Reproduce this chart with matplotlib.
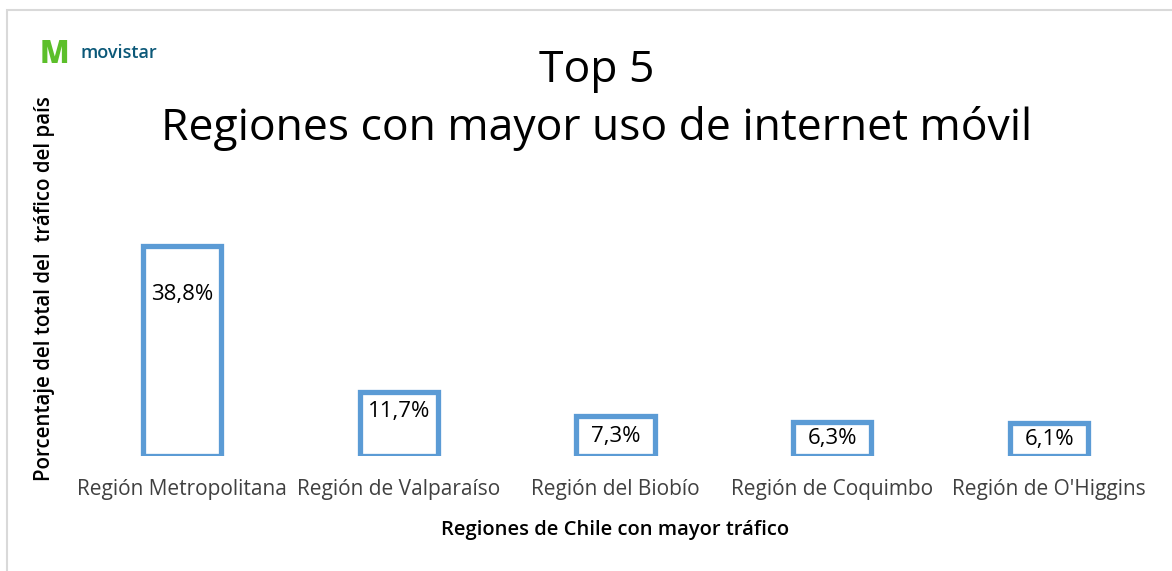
import matplotlib
matplotlib.use("Agg")
import matplotlib.pyplot as plt
from matplotlib.patches import Rectangle

categories = ["Región Metropolitana", "Región de Valparaíso", "Región del Biobío",
              "Región de Coquimbo", "Región de O'Higgins"]
values = [38.8, 11.7, 7.3, 6.3, 6.1]
value_labels = ["38,8%", "11,7%", "7,3%", "6,3%", "6,1%"]
label_drop_pt = [35, 14, 15, 12, 12]

title = "Top 5\nRegiones con mayor uso de internet móvil"
xlabel = "Regiones de Chile con mayor tráfico"
ylabel = "Porcentaje del total del  tráfico del país"

plt.rcParams['font.family'] = ['Open Sans', 'DejaVu Sans']

W, H = 1172, 571
fig = plt.figure(figsize=(W / 100, H / 100), dpi=100)

# outer border
fig.add_artist(Rectangle((7 / W, -0.05), 1.1, (H - 10) / H + 0.05, transform=fig.transFigure,
                         fill=False, edgecolor="#d9d9d9", linewidth=1.5))

ax = fig.add_axes([73.5 / W, (H - 455.5) / H, 1084 / W, 215.6 / H])
x = list(range(len(categories)))
bars = ax.bar(x, values, width=0.36, facecolor="white", edgecolor="#5b9bd5", linewidth=3.8)
ax.set_xlim(-0.5, len(categories) - 0.5)
ax.set_ylim(0, 40)
for b, lab, d in zip(bars, value_labels, label_drop_pt):
    ax.annotate(lab, (b.get_x() + b.get_width() / 2, b.get_height()),
                xytext=(0, -d), textcoords="offset points", ha="center", va="center",
                fontsize=16, color="black")
ax.set_xticks(x)
ax.set_xticklabels(categories, fontsize=15, color="#404040")
ax.tick_params(axis="x", length=0, pad=17)
ax.set_yticks([])
for s in ax.spines.values():
    s.set_visible(False)

fig.text(615 / W, 1 - 530 / H, xlabel, ha="center", va="center", fontsize=14.5,
         fontweight="semibold", color="black")
fig.text(45 / W, 1 - 289 / H, ylabel, ha="center", va="center", rotation=90,
         fontsize=14.8, fontweight="semibold", color="black")
fig.text(597 / W, 1 - 100 / H, title, ha="center", va="center", fontsize=32,
         color="black", linespacing=1.38)

# logo
fig.text(40 / W, 1 - 55 / H, "M", ha="left", va="center", fontsize=22,
         fontweight="heavy", color="#5cbf2a")
fig.text(80 / W, 1 - 53 / H, "movistar", ha="left", va="center", fontsize=13,
         fontweight="semibold", color="#0b5878")

fig.savefig("out.png", dpi=100)
